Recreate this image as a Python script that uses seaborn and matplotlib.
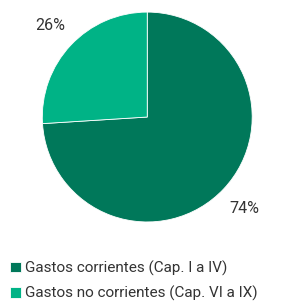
import matplotlib
matplotlib.use("Agg")
from matplotlib import pyplot as plt
import seaborn as sns

categorias = ["Gastos corrientes (Cap. I a IV)", "Gastos no corrientes (Cap. VI a IX)"]
valores = [74, 26]
colores = ["#00785a", "#00b386"]

sns.set_style("white")
plt.rcParams['font.family'] = ['Roboto', 'DejaVu Sans']

fig = plt.figure(figsize=(2.84, 3.02), dpi=100)
ax = fig.add_axes([0.149, 0.265, 0.739, 0.695])

wedges, textos, pcts = ax.pie(
    valores, colors=colores, startangle=90, counterclock=False,
    autopct='%d%%', pctdistance=1.27, radius=1,
    wedgeprops={'edgecolor': 'white', 'linewidth': 0.6},
    textprops={'fontsize': 11.5, 'color': '#333333'},
)
ax.set_aspect('equal')
ax.set_xlim(-1, 1)
ax.set_ylim(-1, 1)

fig.legend(wedges, categorias, loc='upper left', bbox_to_anchor=(0.015, 0.158),
           frameon=False, handlelength=0.7, handleheight=0.7, handletextpad=0.25,
           labelspacing=0.65, borderaxespad=0,
           prop={'size': 11}, labelcolor='#333333')

plt.savefig("out.png", dpi=100)
plt.close()
